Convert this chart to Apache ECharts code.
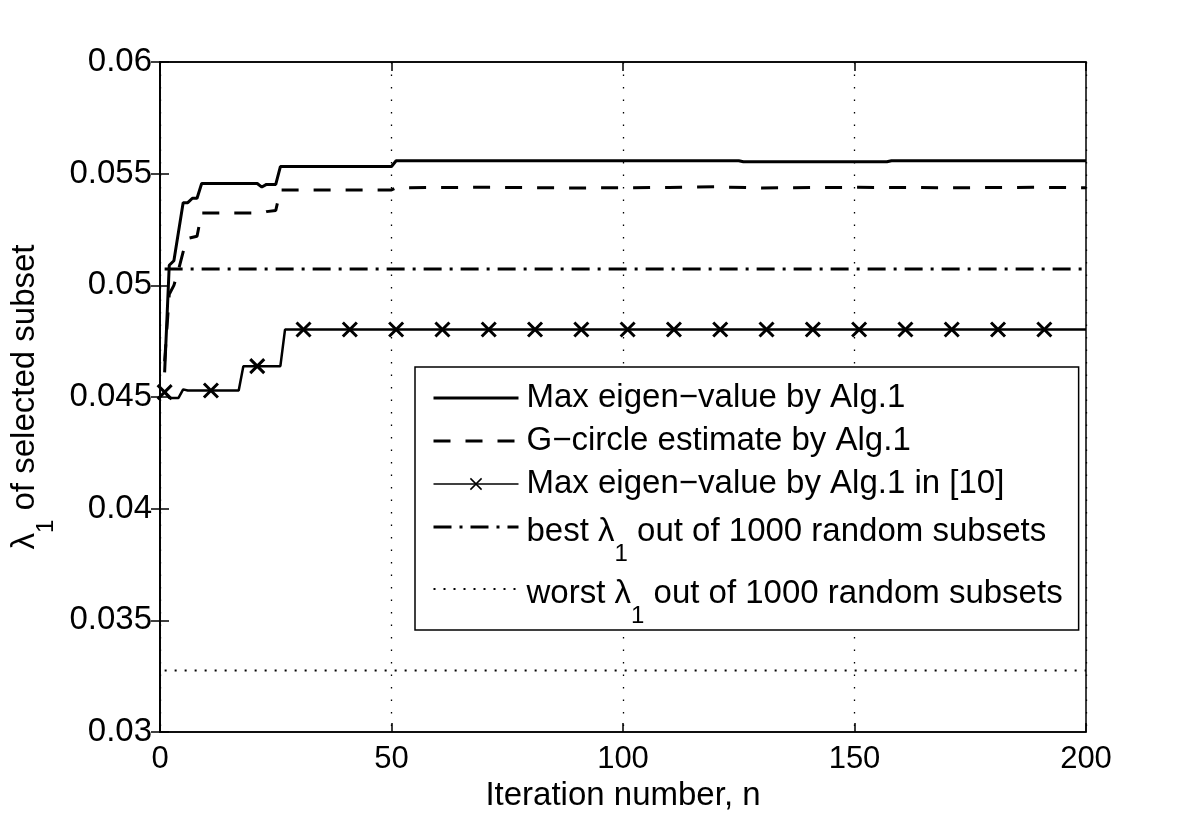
<!DOCTYPE html>
<html>
<head>
<meta charset="utf-8">
<script src="https://cdn.jsdelivr.net/npm/echarts@6/dist/echarts.min.js"></script>
<style>
html,body{margin:0;padding:0;background:#fff;}
#chart{width:1200px;height:823px;}
</style>
</head>
<body>
<div id="chart"></div>
<script>
// ---- data (iteration n, lambda_1) ----
const seriesNames = [
  'Max eigen\u2212value by Alg.1',
  'G\u2212circle estimate by Alg.1',
  'Max eigen\u2212value by Alg.1 in [10]',
  'best \u03bb1 out of 1000 random subsets',
  'worst \u03bb1 out of 1000 random subsets'
];
const xTicks = [0, 50, 100, 150, 200];
const yTicks = [0.03, 0.035, 0.04, 0.045, 0.05, 0.055, 0.06];

const maxAlg1 = [[1,0.0461],[2,0.0509],[3,0.0511],[5,0.0537],[6,0.0537],[7,0.0539],[8,0.0539],[9,0.05456],
  [21,0.05456],[22,0.0544],[23,0.05452],[25,0.05452],[26,0.05532],[50,0.05532],[51,0.05558],
  [125,0.05558],[126,0.05553],[157,0.05553],[158,0.05558],[200,0.05558]];
const gCircle = [[1,0.0466],[2,0.0496],[3,0.0500],[4,0.0507],[5,0.0515],[6,0.0521],[8,0.0522],[9,0.05324],
  [22,0.05324],[23,0.0533],[25,0.05335],[26,0.05427],[50,0.05427],[51,0.05437],[70,0.05439],
  [90,0.05436],[110,0.05438],[120,0.05441],[130,0.05436],[150,0.05439],[170,0.05437],[190,0.05439],[200,0.05437]];
const alg10 = [[1,0.04522],[2,0.04496],[4,0.04496],[5,0.04534],[6,0.04529],[17,0.04529],[18,0.04638],
  [26,0.04638],[27,0.04802],[200,0.04802]];
const alg10MarkerN = [1,11,21,31,41,51,61,71,81,91,101,111,121,131,141,151,161,171,181,191];
const alg10MarkerV = [0.04522,0.04529,0.04638,0.04802,0.04802,0.04802,0.04802,0.04802,0.04802,0.04802,
  0.04802,0.04802,0.04802,0.04802,0.04802,0.04802,0.04802,0.04802,0.04802,0.04802];
const bestRandom = [[1,0.05073],[200,0.05073]];
const worstRandom = [[1,0.03275],[200,0.03275]];

// ---- chart ----
const FONT = 'Liberation Sans';
const crossPath = 'path://M0,0L10,10M10,0L0,10';
const black = '#000';
const hiddenSymbol = {color: 'rgba(0,0,0,0)', borderColor: 'rgba(0,0,0,0)', borderWidth: 0};

function richLambda(name){
  const i = name.indexOf('\u03bb1');
  if (i < 0) return name;
  return '{a|' + name.slice(0, i) + '\u03bb}{s|1}{a|' + name.slice(i + 2) + '}';
}
const richStyles = {
  a: {fontSize: 33, lineHeight: 40, padding: [8,0,0,0], verticalAlign: 'top', color: black, fontFamily: FONT},
  s: {fontSize: 24, lineHeight: 24, padding: [35,0,0,0], verticalAlign: 'top', color: black, fontFamily: FONT}
};
const richAxis = {
  a: {fontSize: 33, lineHeight: 40, padding: [5,0,0,0], verticalAlign: 'top', color: black, fontFamily: FONT},
  s: {fontSize: 24, lineHeight: 24, padding: [31,0,0,0], verticalAlign: 'top', color: black, fontFamily: FONT}
};

const axisCommon = {
  type: 'value',
  axisLine: {show: true, lineStyle: {color: black, width: 1.5}},
  axisTick: {show: true, inside: true, length: 9, lineStyle: {color: black, width: 1.5}},
};

const chart = echarts.init(document.getElementById('chart'), null, {renderer: 'canvas'});
const option = {
  animation: false,
  backgroundColor: '#fff',
  textStyle: {fontFamily: FONT, color: black},
  grid: {left: 160, right: 114, top: 62, bottom: 91, show: true, borderColor: black, borderWidth: 1.5,
    containLabel: false, outerBoundsMode: 'none'},
  xAxis: [
    Object.assign({}, axisCommon, {
      position: 'bottom', min: xTicks[0], max: xTicks[xTicks.length-1], interval: xTicks[1]-xTicks[0],
      axisLabel: {fontSize: 31, color: black, margin: 12, fontFamily: FONT},
      splitLine: {show: true, lineStyle: {color: black, width: 1.3, type: [1.5, 11]}},
      name: 'Iteration number, n', nameLocation: 'middle', nameGap: 47,
      nameTextStyle: {fontSize: 33, color: black, fontFamily: FONT}
    }),
    Object.assign({}, axisCommon, {
      position: 'top', min: xTicks[0], max: xTicks[xTicks.length-1], interval: xTicks[1]-xTicks[0],
      axisLabel: {show: false}, splitLine: {show: false}
    })
  ],
  yAxis: [
    Object.assign({}, axisCommon, {
      position: 'left', min: yTicks[0], max: yTicks[yTicks.length-1], interval: 0.005,
      axisLabel: {fontSize: 33, color: black, margin: 8, fontFamily: FONT,
        formatter: v => String(+(+v).toFixed(3))},
      splitLine: {show: false},
      name: richLambda('\u03bb1 of selected subset'), nameLocation: 'middle', nameGap: 108,
      nameTextStyle: {fontSize: 33, color: black, fontFamily: FONT, rich: richAxis}
    }),
    Object.assign({}, axisCommon, {
      position: 'right', min: yTicks[0], max: yTicks[yTicks.length-1], interval: 0.005,
      axisLabel: {show: false}, splitLine: {show: false}
    })
  ],
  legend: {
    orient: 'vertical', left: 415, top: 367,
    padding: [11, 16, 2, 17], itemGap: 3, itemWidth: 85, itemHeight: 14,
    backgroundColor: '#fff', borderColor: black, borderWidth: 1.5,
    textStyle: {fontSize: 33, lineHeight: 40, color: black, fontFamily: FONT, padding: [0,0,0,3], rich: richStyles},
    formatter: richLambda,
    selectedMode: false,
    data: [
      {name: seriesNames[0], lineStyle: {width: 3}, itemStyle: hiddenSymbol},
      {name: seriesNames[1], lineStyle: {width: 3}, itemStyle: hiddenSymbol},
      {name: seriesNames[2], lineStyle: {width: 1.5}, itemStyle: {borderWidth: 1.5}},
      {name: seriesNames[3], lineStyle: {width: 3}, itemStyle: hiddenSymbol},
      {name: seriesNames[4], lineStyle: {width: 2}, itemStyle: hiddenSymbol}
    ]
  },
  series: [
    {name: seriesNames[0], type: 'line', data: maxAlg1, symbol: 'none',
      lineStyle: {color: black, width: 3}, itemStyle: {color: black}},
    {name: seriesNames[1], type: 'line', data: gCircle, symbol: 'none',
      lineStyle: {color: black, width: 3, type: [17, 15]}, itemStyle: {color: black}},
    {name: seriesNames[2], type: 'line', data: alg10, symbol: crossPath, symbolSize: 13, showSymbol: false,
      lineStyle: {color: black, width: 2.5}, itemStyle: {color: black, borderColor: black, borderWidth: 3}},
    {name: seriesNames[2], type: 'scatter', data: alg10MarkerN.map((n, i) => [n, alg10MarkerV[i]]),
      symbol: crossPath, symbolSize: 14, z: 3,
      itemStyle: {color: black, borderColor: black, borderWidth: 3, opacity: 1}},
    {name: seriesNames[3], type: 'line', data: bestRandom, symbol: 'none',
      lineStyle: {color: black, width: 3, type: [18, 8, 3, 8]}, itemStyle: {color: black}},
    {name: seriesNames[4], type: 'line', data: worstRandom, symbol: 'none',
      lineStyle: {color: black, width: 2, type: [2, 8]}, itemStyle: {color: black}}
  ]
};
chart.setOption(option);
</script>
</body>
</html>
